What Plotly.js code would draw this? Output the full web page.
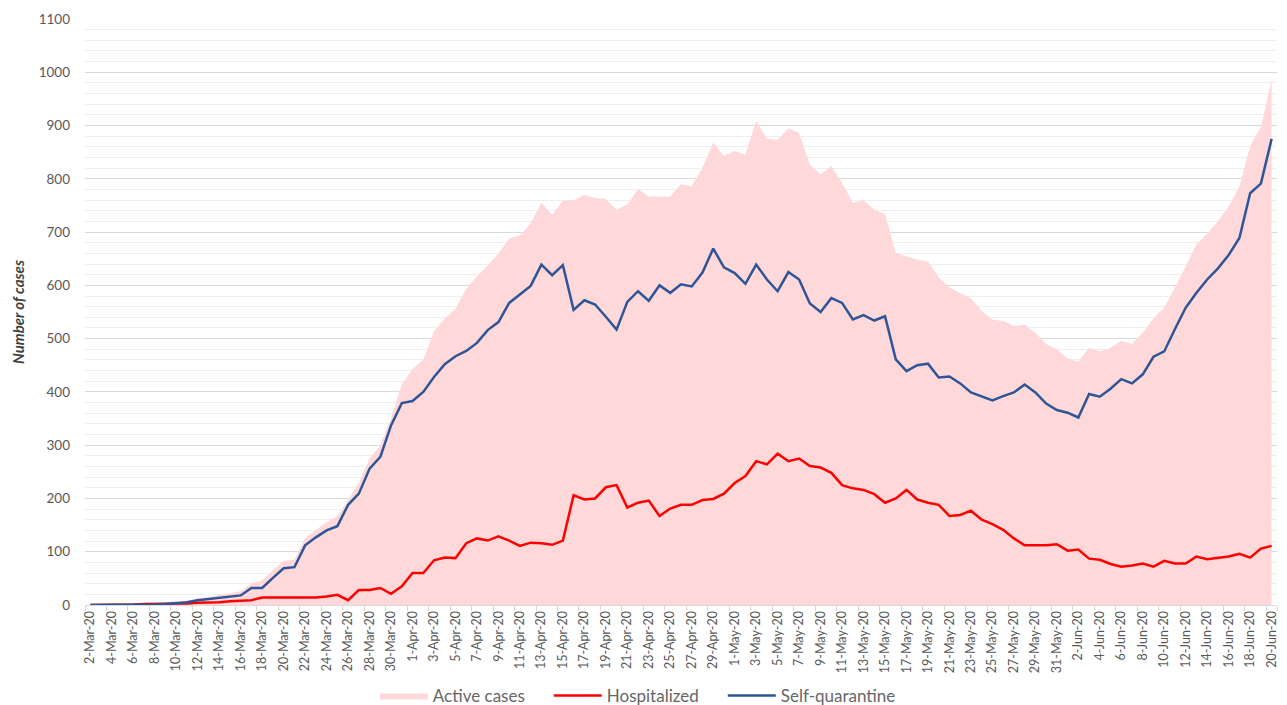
<!DOCTYPE html>
<html>
<head>
<meta charset="utf-8">
<script src="https://cdn.plot.ly/plotly-3.0.1.min.js"></script>
<style>html,body{margin:0;padding:0;background:#fff;}#chart{width:1287px;height:705px;}</style>
</head>
<body>
<div id="chart"></div>
<script>
const dates = [
"2-Mar-20","3-Mar-20","4-Mar-20","5-Mar-20","6-Mar-20","7-Mar-20","8-Mar-20","9-Mar-20","10-Mar-20","11-Mar-20",
"12-Mar-20","13-Mar-20","14-Mar-20","15-Mar-20","16-Mar-20","17-Mar-20","18-Mar-20","19-Mar-20","20-Mar-20","21-Mar-20",
"22-Mar-20","23-Mar-20","24-Mar-20","25-Mar-20","26-Mar-20","27-Mar-20","28-Mar-20","29-Mar-20","30-Mar-20","31-Mar-20",
"1-Apr-20","2-Apr-20","3-Apr-20","4-Apr-20","5-Apr-20","6-Apr-20","7-Apr-20","8-Apr-20","9-Apr-20","10-Apr-20",
"11-Apr-20","12-Apr-20","13-Apr-20","14-Apr-20","15-Apr-20","16-Apr-20","17-Apr-20","18-Apr-20","19-Apr-20","20-Apr-20",
"21-Apr-20","22-Apr-20","23-Apr-20","24-Apr-20","25-Apr-20","26-Apr-20","27-Apr-20","28-Apr-20","29-Apr-20","30-Apr-20",
"1-May-20","2-May-20","3-May-20","4-May-20","5-May-20","6-May-20","7-May-20","8-May-20","9-May-20","10-May-20",
"11-May-20","12-May-20","13-May-20","14-May-20","15-May-20","16-May-20","17-May-20","18-May-20","19-May-20","20-May-20",
"21-May-20","22-May-20","23-May-20","24-May-20","25-May-20","26-May-20","27-May-20","28-May-20","29-May-20","30-May-20",
"31-May-20","1-Jun-20","2-Jun-20","3-Jun-20","4-Jun-20","5-Jun-20","6-Jun-20","7-Jun-20","8-Jun-20","9-Jun-20",
"10-Jun-20","11-Jun-20","12-Jun-20","13-Jun-20","14-Jun-20","15-Jun-20","16-Jun-20","17-Jun-20","18-Jun-20","19-Jun-20",
"20-Jun-20"];

const activeCases = [
0,0,1,1,1,2,3,5,7,8,
13,15,19,23,26,41,46,65,83,85,
126,141,156,167,197,230,275,300,350,414,
443,460,514,538,556,593,617,637,660,688,
694,716,755,732,759,760,770,764,762,742,
752,781,767,767,767,790,786,821,868,843,
852,845,909,875,873,895,886,827,808,824,
792,755,760,742,734,661,655,648,645,615,
596,585,576,552,536,533,524,526,511,490,
480,463,456,483,476,483,496,490,511,538,
559,596,636,677,697,720,748,785,862,897,
986];

const hospitalized = [
0,0,1,1,1,2,2,3,3,3,
4,4,5,7,8,9,14,14,14,14,
14,14,16,19,9,28,28,32,21,35,
60,60,84,89,88,116,125,121,129,121,
111,117,116,113,121,206,198,200,221,225,
183,192,196,167,181,188,188,197,199,209,
229,242,270,264,284,270,275,261,258,248,
225,219,216,208,192,200,216,198,192,188,
167,169,177,160,152,141,125,112,112,112,
114,102,104,87,85,77,72,74,78,72,
83,78,78,91,86,88,91,96,89,106,
111];

const selfQuarantine = [
0,0,0,0,0,0,1,2,4,5,
9,11,14,16,18,32,32,51,69,71,
112,127,140,148,188,209,256,278,337,379,
383,400,428,452,467,477,492,516,531,567,
583,599,639,619,638,554,572,564,541,517,
569,589,571,600,586,602,598,624,669,634,
623,603,639,611,589,625,611,566,550,576,
567,536,544,534,542,461,439,450,453,427,
429,416,399,392,384,392,399,414,399,378,
366,361,352,396,391,406,424,416,433,466,
476,518,558,586,611,632,657,689,773,791,
875];

const tickLabels = dates.filter((d, i) => i % 2 === 0);

const traces = [
  {
    type: 'scatter', mode: 'lines', name: 'Active cases',
    x: dates, y: activeCases, fill: 'tozeroy',
    fillcolor: 'rgb(255,217,217)', line: {width: 0, color: 'rgb(255,217,217)'}
  },
  {
    type: 'scatter', mode: 'lines', name: 'Hospitalized',
    x: dates, y: hospitalized, line: {color: '#FF0000', width: 2.5}
  },
  {
    type: 'scatter', mode: 'lines', name: 'Self-quarantine',
    x: dates, y: selfQuarantine, line: {color: '#2F5597', width: 2.5}
  }
];

const layout = {
  width: 1287, height: 705,
  margin: {l: 85, r: 10, t: 19, b: 100},
  paper_bgcolor: '#ffffff', plot_bgcolor: '#ffffff',
  font: {family: 'Lato, "Open Sans", sans-serif', color: '#595959', size: 13},
  showlegend: true,
  legend: {
    orientation: 'h', xref: 'container', yref: 'container',
    x: 0.494, xanchor: 'center', y: 0.013, yanchor: 'middle',
    font: {size: 17, color: '#666666'}, itemwidth: 48, traceorder: 'normal',
    entrywidth: 111, entrywidthmode: 'pixels'
  },
  xaxis: {
    type: 'category', range: [-0.5, dates.length - 0.5],
    tickmode: 'array', tickvals: tickLabels, ticktext: tickLabels,
    tickangle: -90, tickfont: {size: 12.5, color: '#595959'},
    ticks: 'outside', ticklen: 5, tickcolor: '#d9d9d9', tickson: 'boundaries',
    showgrid: false, showline: true, linecolor: '#d9d9d9', linewidth: 1,
    zeroline: false, automargin: false
  },
  yaxis: {
    range: [0, 1100], dtick: 100, tick0: 0,
    showgrid: true, gridcolor: '#d9d9d9', gridwidth: 1,
    minor: {dtick: 20, showgrid: true, gridcolor: '#eeeeee', gridwidth: 1},
    zeroline: false, showline: false,
    tickfont: {size: 13.5, color: '#595959'},
    ticklabelstandoff: 14,
    title: {text: '<b><i>Number of cases</i></b>', font: {size: 15, color: '#404040'}, standoff: 10},
    automargin: false
  }
};

Plotly.newPlot('chart', traces, layout, {displayModeBar: false, staticPlot: true});
</script>
</body>
</html>
